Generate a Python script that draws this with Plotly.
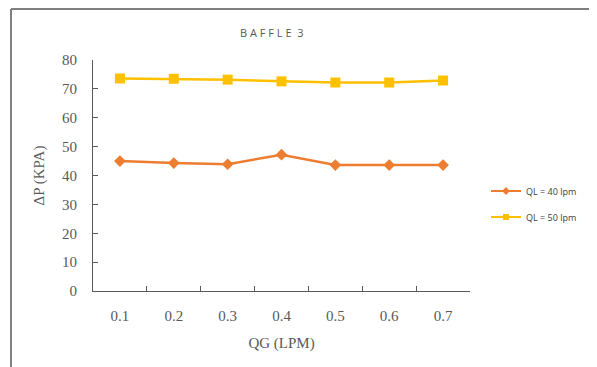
import plotly.graph_objects as go

qg = ["0.1", "0.2", "0.3", "0.4", "0.5", "0.6", "0.7"]
dp_ql40 = [45.0, 44.3, 43.9, 47.2, 43.6, 43.6, 43.6]
dp_ql50 = [73.6, 73.5, 73.2, 72.6, 72.2, 72.2, 72.9]

# page renders with an 8px body offset; geometry below is in figure pixels
OFF = 8
W, H = 597 - OFF, 367 - OFF
L, R, T, B = 93 - OFF, 470 - OFF, 60 - OFF, 291 - OFF
pw, ph = R - L, B - T

def px(x):
    return (x - OFF - L) / pw

def py(y):
    return (B - (y - OFF)) / ph

orange, yellow = "#ED7D31", "#FFC000"

fig = go.Figure()
fig.add_trace(go.Scatter(
    x=qg, y=dp_ql40, name="QL = 40 lpm", mode="lines+markers",
    line=dict(color=orange, width=2.5),
    marker=dict(symbol="diamond", size=9, color=orange),
    showlegend=False,
))
fig.add_trace(go.Scatter(
    x=qg, y=dp_ql50, name="QL = 50 lpm", mode="lines+markers",
    line=dict(color=yellow, width=2.5),
    marker=dict(symbol="square", size=10, color=yellow),
    showlegend=False,
))
# legend entries with smaller markers, as in the reference
fig.add_trace(go.Scatter(
    x=[None], y=[None], name="QL = 40 lpm", mode="lines+markers",
    line=dict(color=orange, width=2),
    marker=dict(symbol="diamond", size=6, color=orange),
    legendgroup="a",
))
fig.add_trace(go.Scatter(
    x=[None], y=[None], name="QL = 50 lpm", mode="lines+markers",
    line=dict(color=yellow, width=2),
    marker=dict(symbol="square", size=6, color=yellow),
    legendgroup="b",
))

serif = "Liberation Serif, Times New Roman, serif"
fig.update_layout(
    width=W, height=H,
    margin=dict(l=L, r=W - R, t=T, b=H - B, pad=0),
    paper_bgcolor="white", plot_bgcolor="white",
    showlegend=True,
    legend=dict(
        x=px(486), y=py(204), xanchor="left", yanchor="middle",
        font=dict(family="Open Sans, sans-serif", size=9, color="#404040"),
        bgcolor="rgba(0,0,0,0)", traceorder="grouped", tracegroupgap=7,
        itemwidth=30,
    ),
    xaxis=dict(
        type="category", tickson="boundaries", ticks="inside", ticklen=5,
        tickcolor="#595959", showline=True, linecolor="#595959", linewidth=1,
        showgrid=False, zeroline=False, range=[-0.5, 6.5],
        ticklabelstandoff=11,
        tickfont=dict(family=serif, size=15, color="#595959"),
        title=dict(text="QG (LPM)", font=dict(family=serif, size=15, color="#595959"), standoff=14),
    ),
    yaxis=dict(
        range=[0, 80], dtick=10, tick0=0, ticks="inside", ticklen=5,
        tickcolor="#595959", showline=True, linecolor="#595959", linewidth=1,
        showgrid=False, zeroline=False,
        ticklabelstandoff=12,
        tickfont=dict(family=serif, size=15, color="#595959"),
        title=dict(text="ΔP (KPA)", font=dict(family=serif, size=15, color="#595959"), standoff=13),
    ),
    annotations=[dict(
        text="B A F F L E  3", x=px(272), y=py(32), xref="paper", yref="paper",
        showarrow=False, xanchor="center", yanchor="middle",
        font=dict(family="Open Sans, sans-serif", size=11, color="#595959"),
    )],
    shapes=[
        dict(type="line", xref="paper", yref="paper", x0=px(11), x1=px(620), y0=py(OFF + 1), y1=py(OFF + 1),
             line=dict(color="#7f7f7f", width=2)),
        dict(type="line", xref="paper", yref="paper", x0=px(11), x1=px(11), y0=py(OFF + 1), y1=py(400),
             line=dict(color="#7f7f7f", width=2)),
    ],
)

fig.write_html("out.html")
